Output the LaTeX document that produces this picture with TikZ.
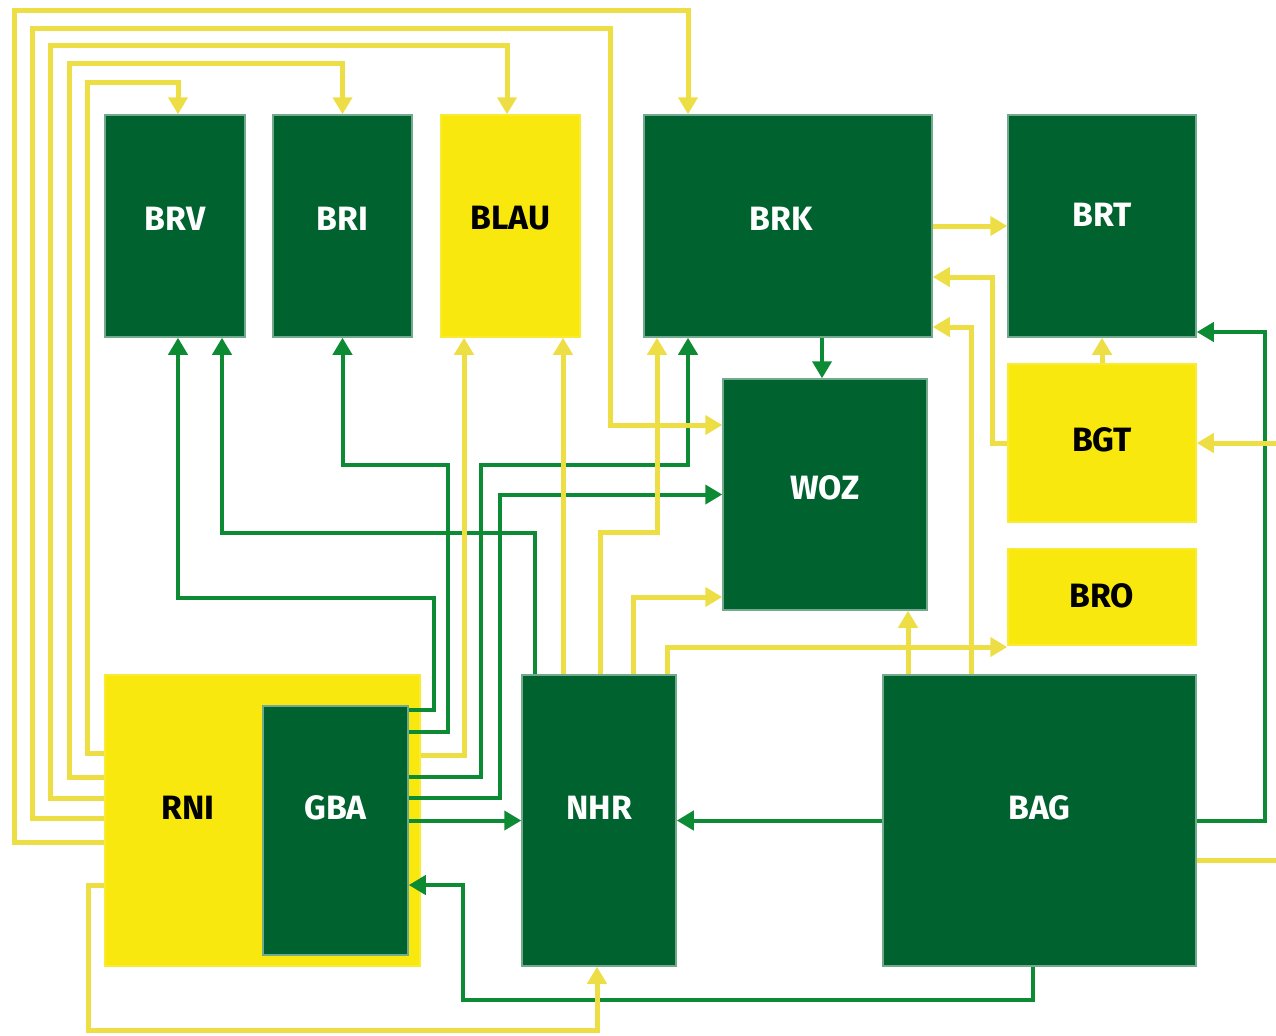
\documentclass[tikz,border=0pt]{standalone}
\usepackage{fontspec}
\setsansfont{Fira Sans}
\usetikzlibrary{arrows.meta}
\definecolor{bgreen}{RGB}{0,99,47}
\definecolor{byellow}{RGB}{248,232,14}
\definecolor{lgreen}{RGB}{12,138,52}
\definecolor{lyellow}{RGB}{238,222,70}
\tikzset{
  boxsize/.style 2 args={minimum width=#1, minimum height=#2},
  gtext/.style={text=white, font=\sffamily\bfseries\fontsize{9.6}{11}\selectfont},
  ytext/.style={text=black, font=\sffamily\bfseries\fontsize{9.6}{11}\selectfont},
  gbox/.style={fill=bgreen, draw=bgreen!55!white, line width=0.15mm, inner sep=0pt},
  ybox/.style={fill=byellow, draw=byellow!85!white, line width=0.15mm, inner sep=0pt},
  glink/.style={draw=lgreen, line width=0.4mm, ->},
  ylink/.style={draw=lyellow, line width=0.5mm, ->},
}
\begin{document}
\begin{tikzpicture}[x=0.1mm, y=-0.1mm, >={Triangle[width=1.9mm,length=1.7mm]}]
\useasboundingbox (0,0) rectangle (1276,1035);

% Top row of registers
\node[gbox, boxsize={14mm}{22.2mm}, label={[gtext, yshift=0.75mm]center:BRV}] (BRV) at (175,226) {};
\node[gbox, boxsize={13.9mm}{22.2mm}, label={[gtext, yshift=0.75mm]center:BRI}] (BRI) at (342.5,226) {};
\node[ybox, boxsize={13.9mm}{22.2mm}, label={[ytext, yshift=0.75mm]center:BLAU}] (BLAU) at (510.5,226) {};
\node[gbox, boxsize={28.8mm}{22.2mm}, label={[gtext, xshift=-0.7mm, yshift=0.75mm]center:BRK}] (BRK) at (788,226) {};
\node[gbox, boxsize={18.8mm}{22.2mm}, label={[gtext, yshift=1.1mm]center:BRT}] (BRT) at (1102,226) {};

% Middle
\node[gbox, boxsize={20.4mm}{23.1mm}, label={[gtext, yshift=0.65mm]center:WOZ}] (WOZ) at (825,494.5) {};
\node[ybox, boxsize={18.8mm}{15.8mm}, label={[ytext, yshift=0.3mm]center:BGT}] (BGT) at (1102,443) {};
\node[ybox, boxsize={18.8mm}{9.6mm}, label={[ytext, yshift=0.1mm]center:BRO}] (BRO) at (1102,597) {};

% Bottom row
\node[ybox, boxsize={31.5mm}{29.1mm}, label={[ytext, xshift=-7.45mm, yshift=1.25mm]center:RNI}] (RNI) at (262.5,820.5) {};
\node[gbox, boxsize={14.5mm}{24.9mm}, label={[gtext, yshift=2.25mm]center:GBA}] (GBA) at (335.5,830.5) {};
\node[gbox, boxsize={15.4mm}{29.1mm}, label={[gtext, yshift=1.25mm]center:NHR}] (NHR) at (599,820.5) {};
\node[gbox, boxsize={31.3mm}{29.1mm}, label={[gtext, yshift=1.25mm]center:BAG}] (BAG) at (1039.5,820.5) {};

% Green links
\draw[glink] (GBA.east |- 0,710) -| (434,598) -| (178,0 |- BRV.south);
\draw[glink] (535,0 |- NHR.north) |- (222,533) -- (222,0 |- BRV.south);
\draw[glink] (GBA.east |- 0,732) -| (448,465) -| (BRI.south);
\draw[glink] (GBA.east |- 0,777) -| (481,465) -| (688,0 |- BRK.south);
\draw[glink] (GBA.east |- 0,798) -| (500,0 |- WOZ.west) -- (WOZ.west);
\draw[glink] (GBA.east |- NHR.west) -- (NHR.west);
\draw[glink] (BAG.west) -- (NHR.east);
\draw[glink] (1033,0 |- BAG.south) |- (463,1000) |- (GBA.east |- 0,885);
\draw[glink] (BAG.east) -| (1265,332) -- (BRT.east |- 0,332);
\draw[glink] (822,0 |- BRK.south) -- (822,0 |- WOZ.north);

% Yellow links
\draw[ylink] (RNI.west |- 0,753) -| (87,82) -| (178,0 |- BRV.north);
\draw[ylink] (RNI.west |- 0,777) -| (69,63) -| (BRI.north);
\draw[ylink] (RNI.west |- 0,798) -| (50,45) -| (507,0 |- BLAU.north);
\draw[ylink] (RNI.west |- 0,818) -| (32,28) -| (610,425) -- (WOZ.west |- 0,425);
\draw[ylink] (RNI.west |- 0,842) -| (14,10) -| (688,0 |- BRK.north);
\draw[ylink] (RNI.west |- 0,885) -| (88,1030) -| (597,0 |- NHR.south);
\draw[ylink] (RNI.east |- 0,755) -| (464,0 |- BLAU.south);
\draw[ylink] (563,0 |- NHR.north) -- (563,0 |- BLAU.south);
\draw[ylink] (600,0 |- NHR.north) |- (657,532) -- (657,0 |- BRK.south);
\draw[ylink] (633,0 |- NHR.north) |- (WOZ.west |- 0,597);
\draw[ylink] (667,0 |- NHR.north) |- (BRO.west |- 0,647);
\draw[ylink] (908,0 |- BAG.north) -- (908,0 |- WOZ.south);
\draw[ylink] (971,0 |- BAG.north) |- (BRK.east |- 0,327);
\draw[ylink] (BGT.west) -| (992,277) -- (BRK.east |- 0,277);
\draw[ylink] (BRK.east) -- (BRT.west);
\draw[ylink] (BGT.north) -- (BRT.south);
\draw[ylink] (BAG.east |- 0,860) -| (1300,0 |- BGT.east) -- (BGT.east);

\end{tikzpicture}
\end{document}
